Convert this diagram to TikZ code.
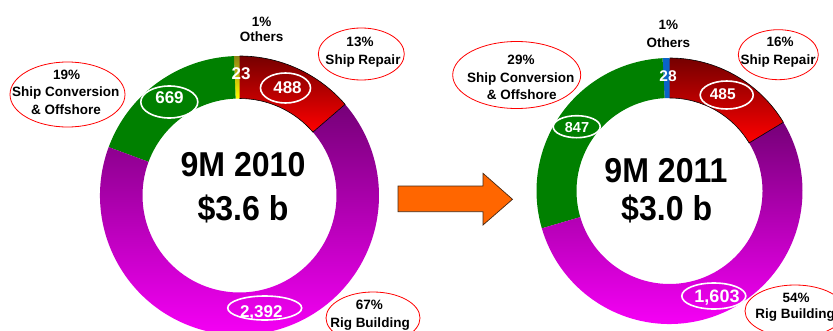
\documentclass[tikz,border=0pt]{standalone}
\usepackage{fontspec}
\setmainfont{Liberation Sans}
\newfontfamily\bignarrow{Liberation Sans}[FakeStretch=0.93]
\usetikzlibrary{shapes.geometric}
\definecolor{dred}{RGB}{118,0,0}
\definecolor{bred}{RGB}{255,0,0}
\definecolor{dpurple}{RGB}{118,0,120}
\definecolor{bmagenta}{RGB}{255,0,255}
\definecolor{dgreen}{RGB}{0,128,0}
\definecolor{olive2}{RGB}{140,130,20}
\definecolor{yel}{RGB}{255,255,0}
\definecolor{oblue}{RGB}{10,100,200}
\definecolor{aorange}{RGB}{255,102,0}
\definecolor{aedge}{RGB}{70,40,20}
\begin{document}
\begin{tikzpicture}[x=1bp,y=1bp,
  sec/.style n args={4}{insert path={(#1:#3) arc[start angle=#1,end angle=#2,radius=#3] -- (#2:#4) arc[start angle=#2,end angle=#1,radius=#4] -- cycle}},
  lbl/.style={font=\fontsize{13.5bp}{16bp}\selectfont\bfseries, anchor=base, inner sep=0pt},
  big/.style={font=\bignarrow\fontsize{34.5bp}{40bp}\selectfont\bfseries, anchor=base, inner sep=0pt},
  num/.style={text=white, anchor=base, inner sep=0pt, font=\fontsize{#1}{#1}\selectfont\bfseries},
  redell/.style={ellipse, draw=red, line width=0.8bp, inner sep=0pt},
  whiteell/.style={ellipse, draw=white, line width=1.6bp, inner sep=0pt},
  arrowshape/.style={fill=aorange, draw=aedge, line width=0.7bp, line join=miter}]
\useasboundingbox (0,0) rectangle (833,330);
\fill[white] (0,0) rectangle (833,330);
\clip (0,0) rectangle (833,330);

% ---------- left donut ----------
\begin{scope}[shift={(239.5,134.5)}]
  \shade[top color=dred, bottom color=bred, sec={40.8}{90}{139.5}{97}];
  \shade[top color=olive2, bottom color=yel, sec={90}{92.3}{139.5}{97}];
  \fill[dgreen, sec={92.3}{159.7}{139.5}{97}];
  \shade[top color=dpurple, bottom color=bmagenta, sec={159.7}{400.8}{139.5}{97}];
  \draw[black, line width=0.6bp] (90:139.5) arc[start angle=90,end angle=40.8,radius=139.5] -- (40.8:97) arc[start angle=40.8,end angle=90,radius=97];
\end{scope}

% ---------- right donut ----------
\begin{scope}[shift={(669.5,139)}]
  \shade[top color=dred, bottom color=bred, sec={31.1}{90}{133}{93}];
  \fill[oblue, sec={90}{93}{133}{93}];
  \fill[dgreen, sec={93}{196.3}{133}{93}];
  \shade[top color=dpurple, bottom color=bmagenta, sec={196.3}{391.1}{133}{93}];
  \draw[black, line width=0.6bp] (90:133) arc[start angle=90,end angle=31.1,radius=133] -- (31.1:93) arc[start angle=31.1,end angle=90,radius=93];
\end{scope}

% ---------- arrow ----------
\draw[arrowshape] (398,144) -- (483,144) -- (483,156.7) -- (512.5,130.7) -- (483,105) -- (483,118.3) -- (398,118.3) -- cycle;

% ---------- left labels ----------
\node[lbl] (oth1a) at (261.7,304) {1\%};
\node[lbl] (oth1b) at (261.7,288.1) {Others};
\node[redell, minimum width=86bp, minimum height=52bp] (rep1e) at (361.3,276) {};
\node[lbl] (rep1a) at (360,283.1) {13\%};
\node[lbl] (rep1b) at (363,265.5) {Ship Repair};
\node[redell, minimum width=115bp, minimum height=65bp] (conv1e) at (67.5,235.5) {};
\node[lbl] (conv1a) at (66.7,250.8) {19\%};
\node[lbl] (conv1b) at (65.7,233.8) {Ship Conversion};
\node[lbl] (conv1c) at (66,215.8) {\& Offshore};
\node[redell, minimum width=94bp, minimum height=52bp] (rig1e) at (373,12) {};
\node[lbl] (rig1a) at (369.3,20.5) {67\%};
\node[lbl] (rig1b) at (370,2.5) {Rig Building};
\node[big] (t1a) at (243,153.3) {9M 2010};
\node[big] (t1b) at (243,110) {\$3.6 b};
\node[num=17bp] (n1o) at (241,250.9) {23};
\node[whiteell, minimum width=50bp, minimum height=30bp] (n1re) at (285.5,242) {};
\node[num=17bp] (n1r) at (287.5,236.9) {488};
\node[whiteell, minimum width=57bp, minimum height=32bp] (n1ce) at (169.3,228) {};
\node[num=17bp] (n1c) at (169.5,226.2) {669};
\node[whiteell, minimum width=74bp, minimum height=24bp] (n1ge) at (264.7,22) {};
\node[num=17bp] (n1g) at (261.3,12.9) {2,392};

% ---------- right labels ----------
\node[lbl] (oth2a) at (668.3,300.8) {1\%};
\node[lbl] (oth2b) at (668.3,282.5) {Others};
\node[redell, minimum width=80bp, minimum height=50bp] (rep2e) at (778.3,275.3) {};
\node[lbl] (rep2a) at (780,283.1) {16\%};
\node[lbl] (rep2b) at (778,265.5) {Ship Repair};
\node[redell, minimum width=128bp, minimum height=67bp] (conv2e) at (516.7,255) {};
\node[lbl] (conv2a) at (521,265.5) {29\%};
\node[lbl] (conv2b) at (520.7,247.8) {Ship Conversion};
\node[lbl] (conv2c) at (521.7,230.5) {\& Offshore};
\node[redell, minimum width=100bp, minimum height=52bp] (rig2e) at (795,19) {};
\node[lbl] (rig2a) at (796,27.1) {54\%};
\node[lbl] (rig2b) at (795,11.5) {Rig Building};
\node[big] (t2a) at (666,148) {9M 2011};
\node[big] (t2b) at (666.7,110) {\$3.0 b};
\node[num=15.5bp] (n2o) at (668,248.7) {28};
\node[whiteell, minimum width=53bp, minimum height=28bp] (n2re) at (726.7,235) {};
\node[num=15.5bp] (n2r) at (722.8,230.7) {485};
\node[whiteell, minimum width=47bp, minimum height=22bp] (n2ce) at (576.7,203.3) {};
\node[num=14.5bp] (n2c) at (577,197.3) {847};
\node[whiteell, minimum width=64bp, minimum height=26bp] (n2ge) at (713.8,34) {};
\node[num=18bp] (n2g) at (717,27.8) {1,603};
\end{tikzpicture}
\end{document}
